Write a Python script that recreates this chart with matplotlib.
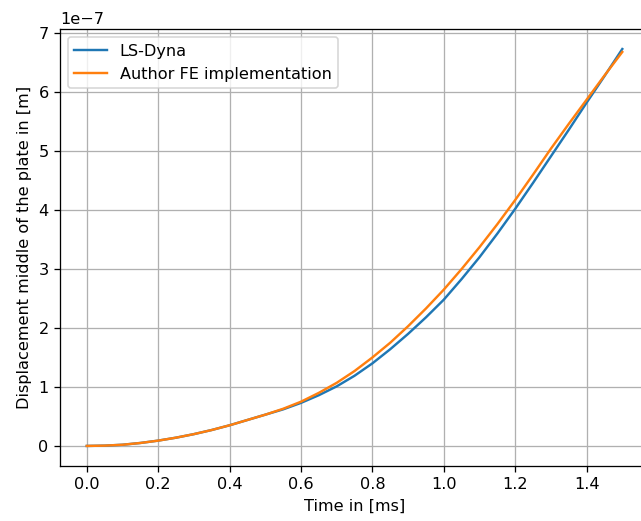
import matplotlib
matplotlib.use("Agg")
import matplotlib.pyplot as plt

# time in ms
time = [0.0, 0.05, 0.1, 0.15, 0.2, 0.25, 0.3, 0.35, 0.4, 0.45, 0.5, 0.55, 0.6, 0.65, 0.7, 0.75,
        0.8, 0.85, 0.9, 0.95, 1.0, 1.05, 1.1, 1.15, 1.2, 1.25, 1.3, 1.35, 1.4, 1.45, 1.5]

# displacement (x 1e-7 m)
ls_dyna = [0.0, 0.005, 0.02, 0.05, 0.09, 0.14, 0.20, 0.27, 0.35, 0.44, 0.53, 0.62, 0.73, 0.86, 1.01, 1.19,
           1.40, 1.64, 1.90, 2.18, 2.48, 2.83, 3.20, 3.60, 4.02, 4.46, 4.91, 5.36, 5.82, 6.27, 6.73]
author_fe = [0.0, 0.005, 0.02, 0.05, 0.09, 0.14, 0.20, 0.27, 0.35, 0.44, 0.53, 0.63, 0.75, 0.90, 1.07, 1.27,
             1.50, 1.75, 2.03, 2.33, 2.65, 3.00, 3.37, 3.76, 4.17, 4.60, 5.04, 5.46, 5.87, 6.28, 6.68]
ls_dyna = [v * 1e-7 for v in ls_dyna]
author_fe = [v * 1e-7 for v in author_fe]

dpi = 116
fig = plt.figure(figsize=(641 / dpi, 521 / dpi), dpi=dpi)
ax = fig.add_axes([0.0936, 0.106, 0.919, 0.838])

ax.plot(time, ls_dyna, label='LS-Dyna')
ax.plot(time, author_fe, label='Author FE implementation')
ax.set_xlabel('Time in [ms]')
ax.set_ylabel('Displacement middle of the plate in [m]')
ax.grid(True)
ax.legend(loc='upper left')

fig.savefig('out.png', dpi=dpi)
